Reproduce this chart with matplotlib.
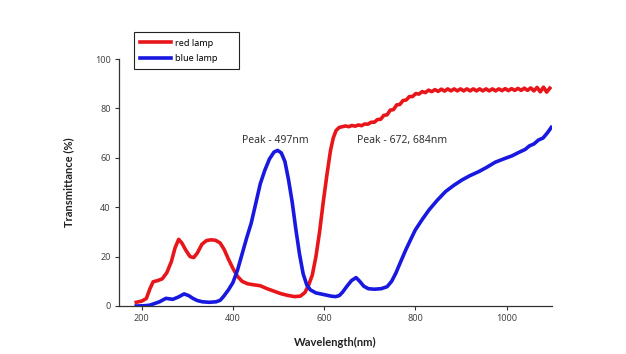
import matplotlib
matplotlib.use('Agg')
import matplotlib.pyplot as plt

# === Data ===
red_nm = [188, 200, 210, 218, 225, 235, 245, 255, 265, 273, 281, 288, 297, 306, 314, 322,
          332, 342, 352, 362, 372, 381, 390, 400, 410, 420, 432, 445, 460, 475, 490, 505,
          520, 535, 548, 558, 566, 574, 582, 590, 598, 606, 614, 620, 626, 633,
          640, 647, 654, 661, 668, 675, 682, 689, 696, 703, 710, 717, 724, 731, 738, 745,
          752, 759, 766, 773, 780, 787, 794, 801, 808, 815, 822, 829, 836, 843, 850, 857,
          864, 871, 878, 885, 892, 899, 906, 913, 920, 927, 934, 941, 948, 955, 962, 969,
          976, 983, 990, 997, 1004, 1011, 1018, 1025, 1032, 1039, 1046, 1053, 1060, 1067,
          1074, 1081, 1088, 1095]
red_t = [1.5, 2.0, 3.0, 7.0, 9.8, 10.3, 11.0, 13.5, 18.0, 23.5, 27.0, 25.5, 22.5, 20.0, 19.6, 21.5,
         25.0, 26.5, 26.8, 26.6, 25.5, 22.8, 19.0, 15.2, 12.0, 10.0, 9.0, 8.6, 8.2, 7.0, 6.0, 5.0,
         4.3, 3.8, 4.0, 5.5, 8.5, 12.5, 20.0, 30.0, 42.0, 53.0, 63.0, 68.0, 71.0, 72.3,
         72.6, 72.9, 72.6, 73.1, 72.8, 73.3, 73.0, 73.7, 73.6, 74.4, 74.4, 75.5, 75.6, 77.2, 77.4, 79.3,
         79.5, 81.4, 81.6, 83.2, 83.4, 84.8, 84.8, 86.0, 85.8, 86.8, 86.4, 87.4, 86.8, 87.6, 86.9, 87.8,
         87.0, 87.9, 87.1, 87.9, 87.1, 87.9, 87.1, 87.9, 87.1, 87.9, 87.1, 87.9, 87.1, 87.9, 87.1, 87.9,
         87.1, 87.9, 87.2, 88.0, 87.2, 88.0, 87.3, 88.1, 87.3, 88.2, 87.3, 88.3, 87.1, 88.5,
         86.7, 88.6, 86.6, 88.2]

blue_nm = [188, 205, 217, 228, 239, 253, 268, 280, 293, 303, 312, 322, 333, 348, 363, 372,
           380, 390, 400, 410, 420, 430, 440, 450, 460, 470, 480, 490, 498, 506, 514, 522,
           530, 538, 546, 554, 562, 570, 582, 600, 615, 625, 633, 640, 650, 660, 670, 678,
           687, 697, 710, 725, 738, 748, 757, 768, 779, 790, 800, 815, 830, 848, 866, 884,
           902, 920, 939, 957, 975, 993, 1012, 1027, 1041, 1050, 1060, 1070, 1080, 1090, 1098]
blue_t = [0.0, 0.1, 0.3, 1.0, 1.7, 3.1, 2.7, 3.6, 4.9, 4.2, 3.1, 2.2, 1.7, 1.5, 1.7, 2.3,
          4.0, 6.5, 9.5, 14.5, 21.0, 27.5, 33.5, 41.5, 49.5, 55.0, 59.5, 62.3, 63.0, 62.0, 58.5, 51.0,
          42.0, 31.0, 21.0, 13.0, 8.5, 6.5, 5.3, 4.6, 4.0, 3.8, 4.2, 5.5, 8.0, 10.3, 11.5, 10.0,
          8.0, 7.0, 6.8, 7.0, 7.8, 10.0, 13.2, 18.0, 22.7, 27.0, 30.8, 35.0, 38.9, 42.8, 46.3, 48.8,
          51.0, 52.8, 54.4, 56.2, 58.2, 59.5, 60.8, 62.2, 63.4, 64.8, 65.6, 67.2, 68.0, 70.2, 72.3]

x_ticks = [200, 400, 600, 800, 1000]
y_ticks = [0, 20, 40, 60, 80, 100]

plt.rcParams['font.family'] = ['Noto Sans', 'DejaVu Sans']

fig = plt.figure(figsize=(6.26, 3.54), dpi=100)
ax = fig.add_axes([0.190, 0.1356, 0.692, 0.6977])

ax.plot(red_nm, red_t, color='#e8161b', lw=2.6, label='red lamp', solid_joinstyle='round')
ax.plot(blue_nm, blue_t, color='#1818e0', lw=2.6, label='blue lamp', solid_joinstyle='round')

ax.set_xlim(150, 1100)
ax.set_ylim(0, 100)
ax.set_xticks(x_ticks)
ax.set_yticks(y_ticks)
for s in ['top', 'right']:
    ax.spines[s].set_visible(False)
for s in ['left', 'bottom']:
    ax.spines[s].set_color('#333333')
    ax.spines[s].set_linewidth(0.9)
ax.tick_params(direction='out', length=3, width=0.8, color='#333333',
               labelsize=6.5, labelcolor='#444444', pad=3)

ax.set_xlabel('Wavelength(nm)', fontsize=8, fontweight='bold', family=['Lato', 'DejaVu Sans'],
              color='#222222', labelpad=10)
ax.set_ylabel('Transmittance (%)', fontsize=8, fontweight='bold', family=['Lato', 'DejaVu Sans'],
              color='#222222', labelpad=15)

ax.text(494, 67, 'Peak - 497nm', fontsize=7.5, color='#333333', ha='center', va='center')
ax.text(672, 67, 'Peak - 672, 684nm', fontsize=7.5, color='#333333', ha='left', va='center')

leg = ax.legend(loc='upper left', bbox_to_anchor=(0.034, 0.8, 0.244, 0.308), mode='expand',
                fontsize=6.5, frameon=True, fancybox=False, framealpha=1, edgecolor='#222222',
                handlelength=3.4, handletextpad=0.5, borderpad=0.7, labelspacing=0.7,
                borderaxespad=0)
leg.get_frame().set_linewidth(0.8)

fig.savefig('out.png', dpi=100)
